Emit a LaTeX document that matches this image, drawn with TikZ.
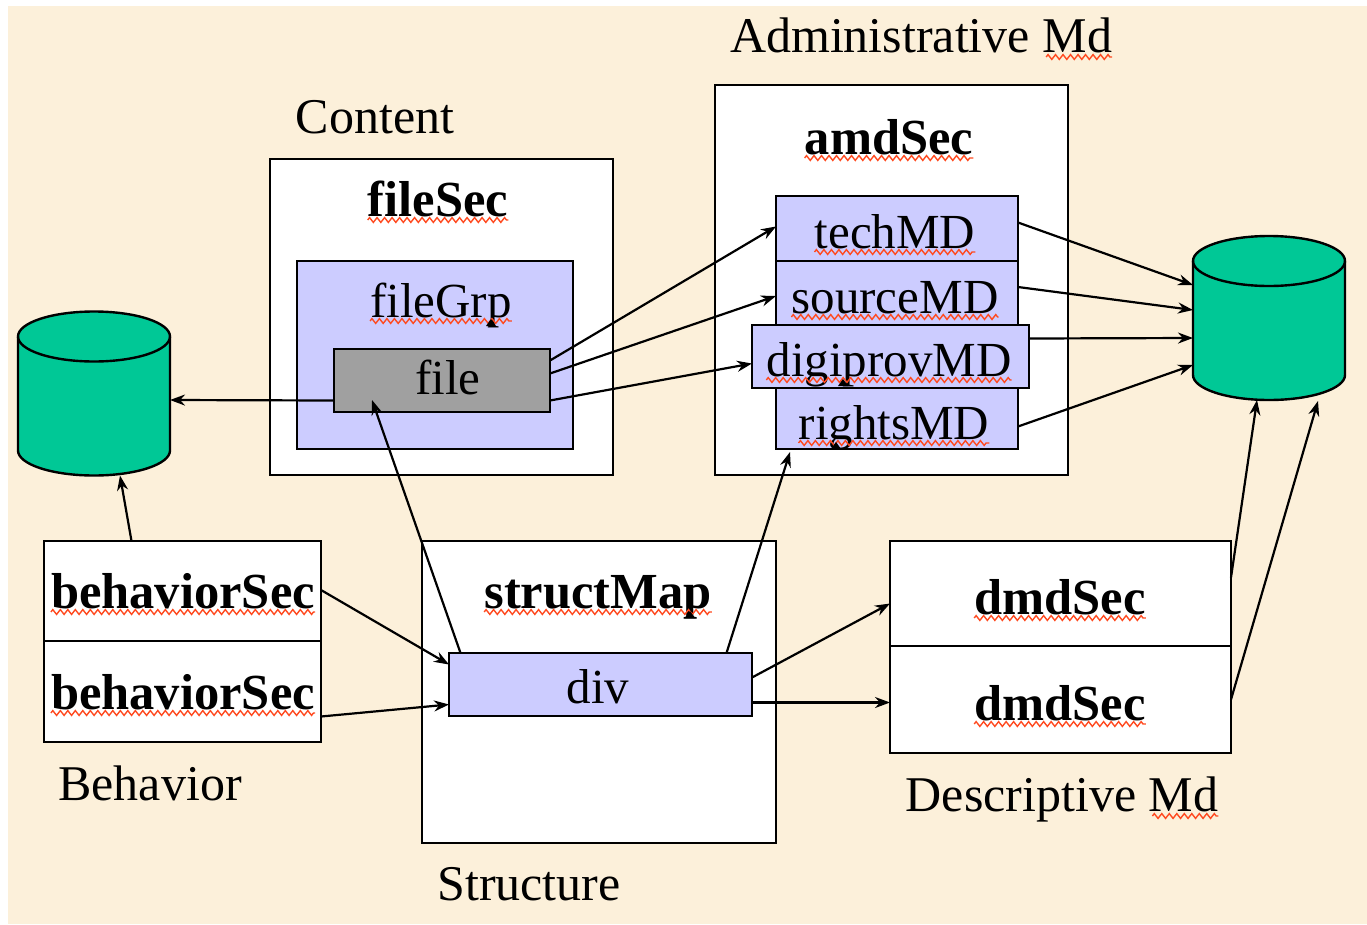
\documentclass[tikz,border=0pt]{standalone}
\usepackage{fontspec}
\setmainfont{Liberation Serif}
\usetikzlibrary{arrows.meta,decorations.pathmorphing}
\definecolor{paper}{HTML}{FCF0DA}
\definecolor{panel}{HTML}{CCCCFF}
\definecolor{store}{HTML}{00C896}
\definecolor{filegray}{HTML}{A0A0A0}
\definecolor{spell}{HTML}{FF4A20}
\tikzset{
  box/.style={draw=black, line width=2.4pt, rectangle, inner sep=0pt, outer sep=0pt},
  whitebox/.style={box, fill=white},
  panelbox/.style={box, fill=panel},
  db/.style={rectangle, inner sep=0pt, outer sep=0pt, minimum width=152pt, minimum height=164pt},
  dbline/.style={draw=black, fill=store, line width=2.4pt},
  txt/.style={anchor=base, inner sep=0pt, font=\fontsize{49}{49}\selectfont},
  ltxt/.style={txt, font=\fontsize{50}{50}\selectfont},
  btxt/.style={txt, font=\fontsize{50.5}{50.5}\selectfont\bfseries},
  link/.style={draw=black, line width=2.2pt, -{Stealth[length=15pt,width=11pt]}},
  squiggle/.style={draw=spell, line width=1.4pt, decorate, decoration={zigzag, amplitude=2.4pt, segment length=7.5pt}}
}
\begin{document}
\begin{tikzpicture}[x=1pt, y=-1pt]
\useasboundingbox (0,0) rectangle (1367,924);
\fill[white] (0,0) rectangle (1367,924);
\fill[paper] (8,6) rectangle (1367,924);

% Content
\node[whitebox, minimum width=343pt, minimum height=316pt] (filesec) at (441.5,317) {};
\node[panelbox, minimum width=276pt, minimum height=188pt] (filegrp) at (435,355) {};
\node[box, fill=filegray, minimum width=216pt, minimum height=63pt] (file) at (442,380.5) {};

% Administrative
\node[whitebox, minimum width=353pt, minimum height=390pt] (amdsec) at (891.5,280) {};
\node[panelbox, minimum width=242pt, minimum height=65pt] (techmd) at (897,228.5) {};
\node[panelbox, minimum width=242pt, minimum height=64pt] (sourcemd) at (897,293) {};
\node[panelbox, minimum width=242pt, minimum height=61pt] (rightsmd) at (897,418.5) {};
\node[panelbox, minimum width=277pt, minimum height=63pt] (digiprovmd) at (890.5,356.5) {};

% Behavior
\node[whitebox, minimum width=277pt, minimum height=100pt] (behaviorA) at (182.5,591) {};
\node[whitebox, minimum width=277pt, minimum height=101pt] (behaviorB) at (182.5,691.5) {};

% Structure
\node[whitebox, minimum width=354pt, minimum height=302pt] (structmap) at (599,692) {};
\node[panelbox, minimum width=303pt, minimum height=63pt] (div) at (600.5,684.5) {};

% Descriptive
\node[whitebox, minimum width=341pt, minimum height=105pt] (dmdA) at (1060.5,593.5) {};
\node[whitebox, minimum width=341pt, minimum height=107pt] (dmdB) at (1060.5,699.5) {};

% Stores
\node[db] (storeL) at (94,393.5) {};
\node[db] (storeR) at (1269,318) {};
\foreach \n in {storeL,storeR} {
  \draw[dbline] ([yshift=-25pt]\n.north west) arc[start angle=180, end angle=0, x radius=76pt, y radius=25pt]
    -- ([yshift=25pt]\n.south east) arc[start angle=0, end angle=-180, x radius=76pt, y radius=25pt] -- cycle;
  \draw[draw=black, line width=2.4pt] ([yshift=-25pt]\n.north west) arc[start angle=180, end angle=360, x radius=76pt, y radius=25pt];
}

% Labels
\node[ltxt] (lcontent) at (375,133) {Content};
\node[ltxt] (ladm) at (921,52) {Administrative Md};
\node[ltxt] (lbehavior) at (150,800) {Behavior};
\node[ltxt] (lstructure) at (529,900) {Structure};
\node[ltxt] (ldesc) at (1062,811) {Descriptive Md};

\node[btxt] (tfilesec) at (438,216) {fileSec};
\node[txt] (tfilegrp) at (441,317) {fileGrp};
\node[txt] (tfile) at (448,394) {file};
\node[btxt] (tamdsec) at (889,154) {amdSec};
\node[txt] (ttech) at (895,248) {techMD};
\node[txt] (tsource) at (895,313) {sourceMD};
\node[txt] (tdigiprov) at (889,376) {digiprovMD};
\node[txt] (trights) at (894,439) {rightsMD};
\node[btxt] (tbehaviorA) at (183,608) {behaviorSec};
\node[btxt] (tbehaviorB) at (183,709) {behaviorSec};
\node[btxt] (tstructmap) at (598,608) {structMap};
\node[txt] (tdiv) at (598,703) {div};
\node[btxt] (tdmdA) at (1060,614) {dmdSec};
\node[btxt] (tdmdB) at (1060,720) {dmdSec};

% Spelling marks
\foreach \n in {tfilesec,tfilegrp,tamdsec,ttech,tsource,tdigiprov,trights,tbehaviorA,tbehaviorB,tstructmap,tdmdA,tdmdB}
  \draw[squiggle] ([yshift=-4pt]\n.base west) -- ([yshift=-4pt]\n.base east);
\draw[squiggle] ([xshift=-66pt,yshift=-5pt]ladm.base east) -- ([yshift=-5pt]ladm.base east);
\draw[squiggle] ([xshift=-66pt,yshift=-5pt]ldesc.base east) -- ([yshift=-5pt]ldesc.base east);

% Small marks on the text
\foreach \x/\y in {491/326,690/618,843/386,836/449}
  \fill[black] (\x-5,\y) -- (\x,\y-7) -- (\x+5,\y) -- cycle;

% Arrows from file
\draw[link] ([yshift=20pt]file.east) -- ([yshift=2pt]techmd.west);
\draw[link] ([yshift=7pt]file.east) -- ([yshift=-3pt]sourcemd.west);
\draw[link] ([yshift=-20pt]file.east) -- ([yshift=-7pt]digiprovmd.west);
\draw[link] ([yshift=-20pt]file.west) -- ([yshift=-6.5pt]storeL.east);

% Arrows to the right store
\draw[link] ([yshift=6pt]techmd.east) -- ([yshift=33pt]storeR.west);
\draw[link] ([yshift=6pt]sourcemd.east) -- ([yshift=8pt]storeR.west);
\draw[link] ([yshift=18pt]digiprovmd.east) -- ([yshift=-20pt]storeR.west);
\draw[link] ([yshift=-8pt]rightsmd.east) -- ([yshift=-47pt]storeR.west);

% Arrows around the behavior boxes
\draw[link] ([xshift=-51pt]behaviorA.north) -- ([xshift=26pt]storeL.south);
\draw[link] ([yshift=1pt]behaviorA.east) -- ([yshift=20pt]div.west);
\draw[link] ([yshift=-25pt]behaviorB.east) -- ([yshift=-20pt]div.west);

% Arrows from div
\draw[link] ([xshift=-140pt]div.north) -- ([xshift=-70pt,yshift=-51pt]file.north);
\draw[link] ([xshift=126pt]div.north) -- ([xshift=-107pt,yshift=-3pt]rightsmd.south);
\draw[link] ([yshift=7pt]div.east) -- ([yshift=-10pt]dmdA.west);
\draw[link] ([yshift=-18pt]div.east) -- ([yshift=-3pt]dmdB.west);

% Arrows from dmdSec
\draw[link] ([yshift=16pt]dmdA.east) -- ([xshift=-12pt]storeR.south);
\draw[link] ([yshift=0pt]dmdB.east) -- ([xshift=49pt,yshift=-1pt]storeR.south);
\end{tikzpicture}
\end{document}
